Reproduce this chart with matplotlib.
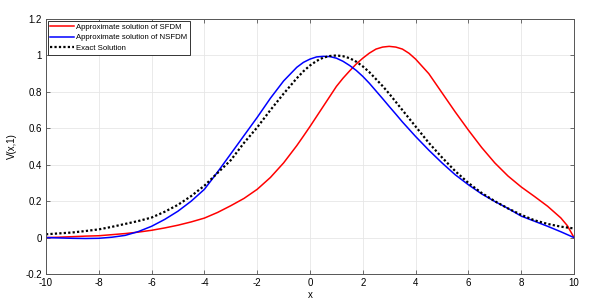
import numpy as np
import matplotlib
matplotlib.use("Agg")
import matplotlib.pyplot as plt

# values at these x positions
x = [-10, -9.5, -9, -8.5, -8, -7.5, -7, -6.5, -6, -5.5, -5, -4.5, -4, -3.5,
     -3, -2.5, -2, -1.5, -1, -0.5, -0.25, 0, 0.25, 0.5, 0.75, 1, 1.25, 1.5,
     1.75, 2, 2.25, 2.5, 2.75, 3, 3.25, 3.5, 3.75, 4, 4.5, 5, 5.5, 6, 6.5,
     7, 7.5, 8, 8.5, 9, 9.5, 9.75, 10]

sfdm = [0.0, 0.002, 0.005, 0.008, 0.01, 0.016, 0.022, 0.03, 0.04, 0.053,
        0.068, 0.086, 0.107, 0.138, 0.175, 0.215, 0.265, 0.33, 0.41, 0.505,
        0.557, 0.61, 0.665, 0.72, 0.775, 0.83, 0.875, 0.915, 0.953, 0.985,
        1.013, 1.035, 1.046, 1.05, 1.046, 1.035, 1.012, 0.98, 0.9, 0.795,
        0.69, 0.59, 0.495, 0.41, 0.338, 0.278, 0.226, 0.172, 0.108, 0.065,
        0.0]

nsfdm = [0.0, -0.002, -0.004, -0.005, -0.004, 0.002, 0.012, 0.033, 0.062,
         0.1, 0.145, 0.2, 0.265, 0.36, 0.46, 0.56, 0.66, 0.765, 0.86, 0.935,
         0.962, 0.98, 0.992, 0.995, 0.994, 0.985, 0.968, 0.945, 0.918, 0.885,
         0.847, 0.805, 0.763, 0.72, 0.678, 0.635, 0.595, 0.555, 0.48, 0.41,
         0.345, 0.29, 0.24, 0.198, 0.16, 0.118, 0.09, 0.062, 0.032, 0.016, 0.0]

exact = [0.018, 0.023, 0.028, 0.036, 0.045, 0.059, 0.075, 0.091, 0.11, 0.142,
         0.18, 0.228, 0.285, 0.355, 0.425, 0.52, 0.605, 0.7, 0.79, 0.875,
         0.913, 0.945, 0.97, 0.988, 0.997, 1.0, 0.996, 0.985, 0.966, 0.94,
         0.908, 0.87, 0.832, 0.79, 0.745, 0.7, 0.655, 0.61, 0.52, 0.44, 0.365,
         0.3, 0.245, 0.2, 0.16, 0.125, 0.095, 0.075, 0.06, 0.055, 0.05]

xticks = list(range(-10, 11, 2))
yticks = [-0.2, 0, 0.2, 0.4, 0.6, 0.8, 1, 1.2]
ytick_labels = ["-0.2", "0", "0.2", "0.4", "0.6", "0.8", "1", "1.2"]

plt.rcParams['font.family'] = ['Liberation Sans', 'DejaVu Sans']
plt.rcParams['axes.unicode_minus'] = False

fig = plt.figure(figsize=(6.1, 3.07), dpi=100)
ax = fig.add_axes([0.0754, 0.1075, 0.8656, 0.8305])

ax.plot(x, sfdm, color='#ff0000', lw=1.1, label='Approximate solution of SFDM')
ax.plot(x, nsfdm, color='#0000ff', lw=1.1, label='Approximate solution of NSFDM')
ax.plot(x, exact, color='black', lw=1.6, ls=(0, (1, 1)), label='Exact Solution')

ax.set_xlim(-10, 10)
ax.set_ylim(-0.2, 1.2)
ax.set_xticks(xticks)
ax.set_yticks(yticks)
ax.set_yticklabels(ytick_labels)
ax.grid(True, color='#e6e6e6', lw=0.6)
ax.set_axisbelow(True)
ax.tick_params(direction='in', top=True, right=True, labelsize=7,
               length=3, width=0.6, color='#555555', pad=3)
for s in ax.spines.values():
    s.set_color('#555555')
    s.set_linewidth(0.7)

ax.set_xlabel('x', fontsize=7, labelpad=1)
ax.set_ylabel('V(x,1)', fontsize=7, labelpad=6)

leg = ax.legend(loc='upper left', fontsize=5.6, handlelength=3.0,
                borderaxespad=0.2, borderpad=0.35, labelspacing=0.4,
                handletextpad=0.3, fancybox=False, framealpha=1)
leg.get_frame().set_edgecolor('#333333')
leg.get_frame().set_linewidth(0.7)

fig.savefig('out.png', dpi=100)
